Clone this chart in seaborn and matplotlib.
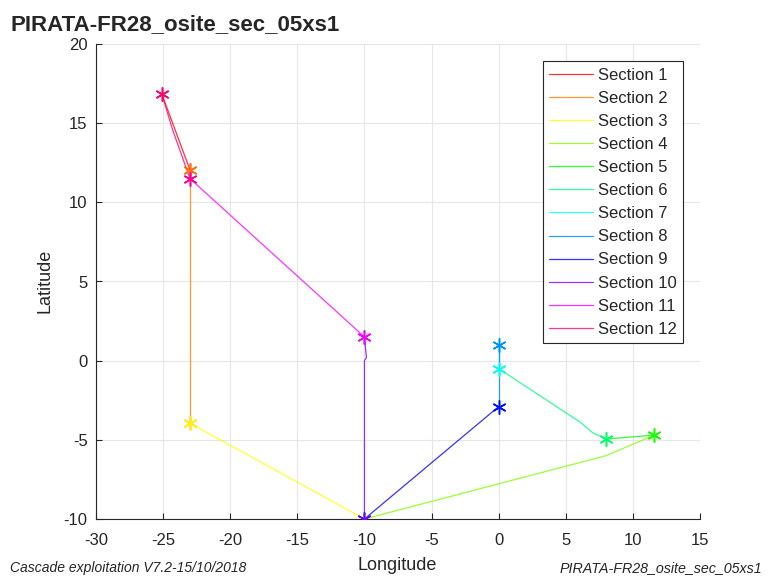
import numpy as np
import pandas as pd
import matplotlib
matplotlib.use("Agg")
import matplotlib.pyplot as plt
import matplotlib.colors as mcolors
import seaborn as sns

# Cruise track, split into sections (longitude / latitude of each waypoint)
section_names = [f"Section {i}" for i in range(1, 13)]
section_lon = [
    [-25.1, -23.0],
    [-23.0, -23.0],
    [-23.0, -10.0],
    [-10.0, 8.0, 11.6],
    [11.6, 8.0],
    [8.0, 7.0, 6.1, 0.0],
    [0.0, 0.0],
    [0.0, 0.0],
    [0.0, -10.0],
    [-10.0, -10.0, -9.85, -9.9, -10.0],
    [-10.0, -23.0],
    [-23.0, -24.3, -25.1],
]
section_lat = [
    [16.85, 12.05],
    [12.05, -3.95],
    [-3.95, -10.0],
    [-10.0, -6.0, -4.7],
    [-4.7, -4.95],
    [-4.95, -4.55, -3.9, -0.5],
    [-0.5, 1.0],
    [1.0, -2.9],
    [-2.9, -10.0],
    [-10.0, 0.0, 0.2, 0.6, 1.5],
    [1.5, 11.5],
    [11.5, 14.6, 16.85],
]

title = "PIRATA-FR28_osite_sec_05xs1"
footer_left = "Cascade exploitation V7.2-15/10/2018"
footer_right = "PIRATA-FR28_osite_sec_05xs1"

# One hue per section around the colour wheel
palette = [mcolors.hsv_to_rgb((i / 12.0, 1.0, 1.0)) for i in range(12)]

rows = []
for name, lons, lats in zip(section_names, section_lon, section_lat):
    for k, (lo, la) in enumerate(zip(lons, lats)):
        rows.append({"section": name, "step": k, "lon": lo, "lat": la})
track = pd.DataFrame(rows)

sns.set_style("white")
plt.rcParams["font.family"] = ["Liberation Sans", "DejaVu Sans"]
plt.rcParams["axes.unicode_minus"] = False

fig = plt.figure(figsize=(7.72, 5.81), dpi=100)
ax = fig.add_axes([96 / 772, 1 - 519 / 581, 604 / 772, 475 / 581])

sns.lineplot(data=track, x="lon", y="lat", hue="section", hue_order=section_names,
             palette=palette, sort=False, estimator=None, units="section",
             linewidth=0.9, alpha=0.8, ax=ax, legend=True)

# asterisks at the start and end of every section
for col, lons, lats in zip(palette, section_lon, section_lat):
    ax.plot([lons[0], lons[-1]], [lats[0], lats[-1]], linestyle="none",
            marker=(6, 2, 0), markersize=10, markeredgewidth=1.0,
            color=col, alpha=0.9, zorder=4)

ax.set_xlim(-30, 15)
ax.set_ylim(-10, 20)
ax.set_xticks(np.arange(-30, 16, 5))
ax.set_yticks(np.arange(-10, 21, 5))
ax.grid(True, color="#e6e6e6", linewidth=0.8)
ax.set_axisbelow(True)
for side in ("top", "right"):
    ax.spines[side].set_visible(False)
for side in ("left", "bottom"):
    ax.spines[side].set_color("#262626")
    ax.spines[side].set_linewidth(0.8)
ax.tick_params(direction="in", length=4, width=0.8, colors="#262626",
               labelsize=12, labelcolor="#262626", left=True, bottom=True)
ax.tick_params(axis="x", pad=10)
ax.tick_params(axis="y", pad=6)
ax.set_xlabel("Longitude", fontsize=13, color="#262626")
ax.set_ylabel("Latitude", fontsize=13, color="#262626")
ax.xaxis.set_label_coords((397 - 96) / 604, (519 - 566) / 475)
ax.yaxis.set_label_coords((45 - 96) / 604, (519 - 281) / 475)
ax.xaxis.label.set_va("center")
ax.yaxis.label.set_va("center")

leg = ax.legend(loc="upper right", bbox_to_anchor=(0.972, 0.964), borderaxespad=0,
                fontsize=12, frameon=True, fancybox=False, framealpha=1,
                edgecolor="#262626", handlelength=2.6, handletextpad=0.3,
                labelspacing=0.485, borderpad=0.4)
leg.get_frame().set_linewidth(0.8)
for t in leg.get_texts():
    t.set_color("#262626")

fig.text(10 / 772, 1 - 25 / 581, title, fontsize=16, fontweight="bold",
         ha="left", va="center")
fig.text(10 / 772, 1 - 568 / 581, footer_left, fontsize=10, style="italic",
         ha="left", va="center", color="#262626")
fig.text(762 / 772, 1 - 568 / 581, footer_right, fontsize=10.3, style="italic",
         ha="right", va="center", color="#262626")

fig.savefig("out.png", dpi=100)
